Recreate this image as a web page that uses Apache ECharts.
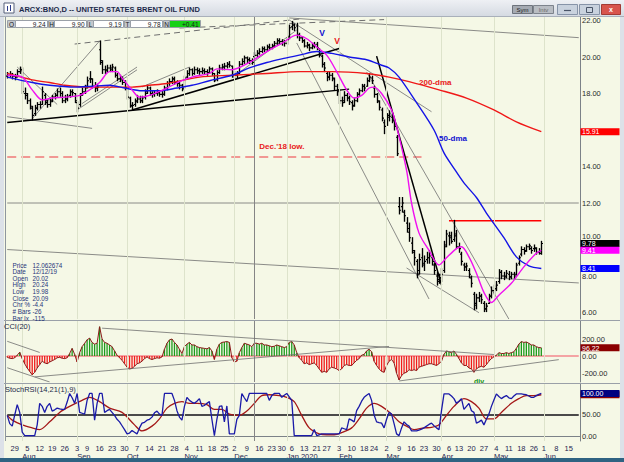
<!DOCTYPE html>
<html>
<head>
<meta charset="utf-8">
<title>ARCX:BNO,D</title>
<script src="https://cdn.jsdelivr.net/npm/echarts@6.0.0/dist/echarts.min.js"></script>
<style>
html,body{margin:0;padding:0;background:#f5f8e6;overflow:hidden}
#chart{width:624px;height:462px}
</style>
</head>
<body>
<div id="chart"></div>
<script>
// ================= DATA =================
const startDate = [2019, 6, 24];
const endDate = [2020, 5, 19];
const holidays = ['2019-09-02','2019-11-28','2019-12-25','2020-01-01','2020-01-20','2020-02-17','2020-04-10','2020-05-25'];
const monthNames = ['Jan','Feb','Mar','Apr','May','Jun','Jul','Aug','Sep','Oct','Nov','Dec'];

const open = [18.95,19.0,19.05,18.95,18.95,19.2,19.3,18.0,17.9,17.6, 17.2,16.9,17.2,17.4,17.4,17.9,17.5,17.4,17.6,17.8, 17.9,18.1,18.0,17.6,17.7,17.9,18.1,18.0,17.5,17.4, 18.0,18.1,18.4,18.8,18.8,18.4,18.3,20.4,19.7,19.3, 19.3,19.4,19.3,19.4,19.0,18.8,18.8,18.6,18.3,17.75, 17.3,17.4,17.6,17.7,17.6,17.8,18.1,18.3,18.0,17.95, 18.0,18.05,17.95,17.95,18.3,18.55,18.65,18.8,18.6,18.55, 18.45,18.3,18.9,19.1,19.3,19.1,19.3,19.25,19.2,19.25, 19.2,19.15,19.35,19.1,18.75,19.15,19.4,19.45,19.5,19.6, 19.5,19.0,19.0,19.1,19.6,19.75,19.95,19.85,19.8,20.02, 20.1,20.2,20.3,20.45,20.4,20.55,20.5,20.6,20.75,20.9, 20.85,20.8,20.75,21.1,21.65,21.75,21.7,21.2,21.05,20.9, 20.6,20.65,20.5,20.6,20.7,20.45,20.05,19.6,19.1,18.9, 19.0,18.8,18.4,18.1,17.6,17.6,17.9,17.75,17.5,17.35, 17.6,17.95,18.15,18.4,18.4,18.7,18.85,18.3,17.95,17.55, 17.1,16.4,16.4,16.8,16.7,16.5,15.6,11.8,11.8,11.5, 10.9,10.4,9.8,9.3,8.8,8.3,9.0,8.6,8.9,9.0, 9.0,8.6,8.0,7.8,7.9,8.3,9.7,10.2,10.2,10.0, 10.3,9.6,9.2,8.6,8.5,8.3,7.9,7.0,6.5,6.8, 6.9,6.5,6.2,6.5,6.9,7.2,7.3,7.7,8.2,8.0, 8.0,8.1,7.95,8.1,8.1,8.7,9.2,9.45,9.4,9.6, 9.5,9.5,9.5,9.3,9.24];
const high = [19.15,19.2,19.1,19.05,19.3,19.45,19.4,18.3,18.0,17.7, 17.3,17.35,17.5,17.55,18.35,18.0,17.65,17.7,17.9,18.0, 18.25,18.3,18.1,17.9,17.95,18.2,18.2,18.0,17.55,18.0, 18.3,18.45,18.9,19.2,18.8,18.6,18.5,20.88,19.8,19.5, 19.55,19.55,19.6,19.45,19.1,19.0,18.9,18.7,18.35,17.8, 17.5,17.7,17.9,17.85,17.85,18.2,18.45,18.35,18.1,18.15, 18.2,18.15,18.1,18.4,18.65,18.8,18.9,18.9,18.7,18.65, 18.5,18.95,19.25,19.4,19.35,19.45,19.4,19.35,19.4,19.35, 19.3,19.45,19.4,19.1,19.25,19.55,19.6,19.65,19.7,19.75, 19.5,19.2,19.2,19.75,19.9,20.05,20.0,19.95,19.9,20.24, 20.35,20.45,20.55,20.55,20.65,20.7,20.7,20.85,21.0,21.0, 20.95,20.9,21.05,21.75,21.95,21.8,21.85,21.3,21.1,20.95, 20.8,20.7,20.75,20.8,20.8,20.45,20.1,19.7,19.15,19.2, 19.1,18.85,18.5,18.2,17.8,18.1,18.0,17.85,17.6,17.75, 18.05,18.25,18.5,18.5,18.85,19.1,18.95,18.4,18.0,17.6, 17.2,16.55,16.9,17.05,16.9,16.6,15.7,12.3,12.3,11.6, 11.2,10.9,10.1,9.4,8.9,9.2,9.5,9.1,9.3,9.4, 9.2,8.7,8.2,8.1,8.4,9.9,10.5,10.4,10.4,11.05, 10.5,9.8,9.3,8.7,8.7,8.4,8.0,7.1,7.0,7.1, 7.0,6.6,6.5,7.0,7.4,7.5,7.7,8.35,8.3,8.2, 8.3,8.25,8.2,8.2,8.7,9.1,9.6,9.55,9.7,9.75, 9.6,9.7,9.55,9.5,9.90];
const low = [18.85,18.9,18.8,18.75,18.9,19.1,18.0,17.7,17.45,17.15, 16.55,16.8,17.1,17.2,17.4,17.4,17.25,17.3,17.55,17.7, 17.85,17.85,17.5,17.5,17.6,17.8,17.9,17.5,17.0,17.3, 17.9,18.0,18.3,18.6,18.3,18.1,18.15,19.6,19.1,19.1, 19.15,19.2,19.2,18.9,18.7,18.65,18.5,18.2,17.7,17.25, 17.1,17.3,17.5,17.5,17.5,17.7,18.0,17.9,17.8,17.85, 17.9,17.85,17.8,17.9,18.2,18.45,18.55,18.5,18.4,18.25, 18.15,18.3,18.85,19.0,19.0,19.05,19.1,19.05,19.1,19.05, 19.0,19.1,19.0,18.65,18.7,19.1,19.3,19.3,19.4,19.45, 18.9,18.85,18.85,19.1,19.55,19.65,19.7,19.65,19.6,19.98, 20.0,20.15,20.25,20.3,20.35,20.4,20.45,20.55,20.7,20.7, 20.65,20.6,20.7,21.0,21.5,21.45,21.05,20.9,20.8,20.55, 20.5,20.35,20.45,20.5,20.4,20.0,19.45,19.2,18.7,18.75, 18.7,18.2,17.9,17.45,17.3,17.5,17.6,17.4,17.1,17.3, 17.55,17.9,18.1,18.15,18.4,18.65,18.55,17.8,17.5,17.1, 16.5,15.8,16.25,16.5,16.4,16.0,14.6,11.4,11.5,11.0, 10.4,9.9,9.25,8.6,7.9,8.1,8.5,8.3,8.7,8.7, 8.6,8.1,7.5,7.6,7.7,8.2,9.6,9.7,9.8,9.9, 9.5,9.3,8.6,8.3,8.3,7.9,7.4,6.15,6.2,6.6, 6.5,6.05,6.05,6.5,6.8,7.0,7.2,7.6,7.85,7.8, 7.9,7.8,7.85,7.85,8.05,8.6,9.1,9.2,9.35,9.45, 9.25,9.35,9.2,9.2,9.19];
const close = [19.0,19.05,18.95,18.9,19.2,19.3,18.1,18.0,17.6,17.3, 16.8,17.2,17.4,17.4,18.1,17.6,17.4,17.55,17.8,17.9, 18.1,18.0,17.6,17.7,17.85,18.1,18.05,17.6,17.2,17.9, 18.1,18.3,18.7,18.8,18.4,18.3,18.35,19.8,19.3,19.25, 19.4,19.4,19.45,19.0,18.8,18.9,18.6,18.3,17.8,17.35, 17.35,17.55,17.7,17.6,17.75,18.0,18.3,18.0,17.95,18.0, 18.05,17.95,17.95,18.3,18.55,18.65,18.8,18.6,18.55,18.45, 18.25,18.85,19.1,19.3,19.1,19.3,19.25,19.2,19.25,19.2, 19.15,19.35,19.1,18.7,19.15,19.4,19.45,19.5,19.6,19.55, 19.0,19.0,19.1,19.6,19.75,19.95,19.85,19.8,19.7,20.09, 20.2,20.3,20.45,20.4,20.55,20.5,20.6,20.75,20.9,20.85, 20.8,20.75,20.95,21.6,21.75,21.6,21.2,21.05,20.9,20.6, 20.65,20.5,20.6,20.65,20.5,20.1,19.6,19.4,18.9,19.0, 18.85,18.4,18.2,17.6,17.5,17.9,17.75,17.55,17.3,17.6, 17.95,18.15,18.4,18.3,18.7,18.9,18.7,17.95,17.6,17.25, 16.65,16.2,16.7,16.75,16.55,16.2,14.7,11.6,12.0,11.3, 10.6,10.1,9.4,9.0,8.1,8.9,8.7,8.8,9.0,9.1, 8.8,8.3,7.7,7.9,8.1,9.6,10.3,10.1,9.9,10.2, 9.6,9.5,8.8,8.5,8.55,8.1,7.6,6.4,6.8,6.9, 6.7,6.2,6.35,6.9,7.2,7.3,7.5,8.2,8.0,7.95, 8.15,7.95,8.1,8.0,8.6,9.0,9.45,9.35,9.6,9.65, 9.4,9.55,9.3,9.37,9.78];

// moving averages as [bar index, value]
const maShort = [[0,19.0],[6,18.9],[10,18.2],[14,17.65],[18,17.75],[23,17.8],[29,17.9],[33,18.2],[37,18.6],[41,19.2],[44,19.2],[46,18.85],[50,18.2],[53,17.8],[57,17.9],[64,18.3],[69,18.65],[74,18.9],[81,19.1],[84,19.35],[90,19.3],[97,19.7],[104,20.3],[110,20.75],[116,21.2],[120,21.0],[124,20.55],[128,20.1],[132,19.2],[136,18.2],[139,17.75],[142,17.9],[145,18.3],[147,18.35],[150,18.0],[154,17.1],[156,16.2],[160,13.8],[162,12.0],[165,10.35],[169,9.4],[173,8.6],[176,9.0],[180,9.5],[182,9.6],[185,9.05],[188,8.15],[191,7.1],[194,6.55],[197,6.95],[202,7.6],[207,8.5],[212,9.25],[214,9.41]];
const ma50 = [[0,18.9],[10,18.6],[17,18.45],[27,18.35],[34,18.4],[41,18.45],[47,18.3],[54,18.15],[61,18.15],[68,18.3],[74,18.45],[81,18.7],[90,19.0],[97,19.4],[104,19.7],[110,19.9],[117,20.1],[124,20.3],[130,20.2],[137,20.0],[144,19.85],[150,19.55],[153,19.4],[157,18.9],[164,17.5],[171,16.0],[175,14.75],[179,13.9],[183,13.1],[188,12.3],[192,11.45],[199,10.1],[204,9.05],[209,8.55],[214,8.41]];
const ma200 = [[0,19.1],[10,18.75],[17,18.6],[23,18.45],[32,18.35],[50,18.35],[57,18.45],[64,18.55],[77,18.9],[90,19.0],[104,19.1],[117,19.2],[130,19.2],[144,19.1],[153,18.9],[161,18.65],[173,18.2],[184,17.75],[195,17.1],[204,16.45],[214,15.91]];

const cci = [-15,-25,-30,-20,10,45,-30,-90,-140,-180, -220,-190,-140,-100,-60,-80,-90,-70,-55,-40, -20,-15,-25,-30,-20,30,90,20,-70,40, 110,150,190,210,160,140,150,344,200,160, 150,130,110,60,10,-20,-50,-90,-130,-150, -145,-120,-90,-80,-60,-30,-10,-30,-40,-30, -20,-25,-10,80,150,190,200,160,130,80, 30,110,140,160,130,130,110,100,95,90, 85,100,60,-40,80,140,160,165,170,160, -20,-70,-60,40,100,150,140,130,110,150, 150,140,150,130,130,120,110,115,130,120, 110,100,110,160,170,130,40,-20,-50,-90, -80,-100,-90,-80,-110,-150,-190,-180,-190,-150, -130,-140,-150,-170,-150,-110,-100,-110,-110,-80, -50,-30,10,20,60,80,50,-60,-110,-150, -180,-190,-110,-60,-40,-80,-200,-280,-230,-200, -190,-160,-170,-160,-170,-130,-120,-110,-100,-90, -90,-100,-110,-90,-60,20,60,50,40,60, 20,-30,-80,-110,-110,-140,-150,-190,-150,-130, -120,-130,-100,-60,-30,-10,10,40,30,30, 40,30,40,50,90,140,170,160,165,150, 130,130,110,100,96.22];

const stochK = [49,30,24,50,74,56,10,2,2,2, 2,2,27,77,70,56,70,77,59,62, 66,64,63,63,80,100,90,77,100,56, 54,52,84,100,100,38,77,100,100,56, 60,63,56,49,40,34,25,16,6,8, 14,10,6,20,31,33,38,40,45,55, 59,52,49,100,100,100,100,84,60,45, 38,70,91,84,80,77,82,88,70,72, 77,81,40,2,40,70,71,34,71,6, 6,6,40,49,100,90,81,100,100,100, 100,100,100,100,100,84,95,100,100,100, 91,96,100,92,84,2,2,2,2,2, 2,2,2,16,2,4,6,6,6,6, 6,6,6,6,20,18,16,41,38,34, 60,70,82,91,96,100,84,50,34,32, 31,20,40,56,52,30,6,2,20,34, 28,24,13,13,13,15,17,20,24,28, 31,25,20,16,60,99,99,99,94,88, 77,82,88,63,70,77,60,56,31,34, 38,27,40,52,70,85,99,93,88,92, 95,90,88,94,99,99,99,98,97,94, 91,91,95,98,100];
const stochD = [[0,49],[2,38],[6,27],[10,20],[13,16],[17,34],[21,56],[25,70],[30,84],[33,91],[37,81],[41,66],[46,56],[51,27],[54,13],[58,24],[61,41],[64,66],[67,77],[70,81],[73,77],[76,77],[80,74],[83,63],[86,63],[89,52],[93,49],[96,59],[99,77],[102,95],[105,97],[109,95],[112,91],[115,81],[118,49],[121,20],[125,6],[128,4],[131,4],[134,9],[138,20],[141,41],[144,66],[147,77],[150,70],[154,52],[157,34],[160,24],[163,16],[167,20],[170,21],[173,27],[176,49],[179,70],[183,88],[186,81],[189,66],[192,41],[195,41],[198,56],[202,77],[205,88],[208,95],[211,95],[214,97]];

// tick label values (10.00 sits slightly above its tick, as in the source chart)
const priceTicks = [6,8,10.15,12,14,18,20,22];
const cciTicks = [-200,0,200];
const stochTicks = [0,50];

// trendlines drawn on the chart, [bar index, value] endpoints
const thinPriceLines = [
  [[4,19.45],[20,17.4]], [[10,16.62],[37,20.88]], [[0,16.73],[34,16.09]],
  [[28,17.1],[52,19.3]], [[30,17.45],[52,19.45]], [[54,18.36],[73,19.45]],
  [[90,18.85],[116,21.48]], [[113,22.14],[229,21.06]], [[116,20.77],[169,6.74]],
  [[113,22.03],[170,17.0]], [[144,19.18],[201,5.64]], [[160,8.44],[189,5.99]],
  [[0,9.45],[229,7.62]], [[0,12.0],[229,12.0]]
];
const boldPriceLines = [ [[0,16.41],[137,18.24]], [[50,17.1],[133,20.47]], [[148,20.05],[174,7.51]] ];
const dashedPriceLines = [ [[27,20.71],[117,22.08]], [[69,21.59],[151,22.05]] ];
const decLowLine = [[0,14.52],[166,14.52]];
const resistanceLine = [[177,11.03],[214,11.03]];
const cciLines = [ [[0,173],[13,42]], [[0,-137],[17,-304]], [[11,-244],[153,113]], [[38,327],[195,18]], [[157,-292],[221,-42]] ];
const cursorIndex = 99;

const header = [['O','9.24'],['H','9.90'],['L','9.19'],['T','9.78'],['N','+0.41']];
const infoBox = [['Price','12.062674'],['Date','12/12/19'],['Open','20.02'],['High','20.24'],['Low','19.98'],['Close','20.09'],['Chr %','-4.4'],['# Bars','-26'],['Bar Ix','-115']];
const priceBadges = [[15.91,'15.91','#ff0000'],[9.78,'9.78','#000000'],[9.41,'9.41','#ff00ff'],[8.41,'8.41','#0000ff']];
const cciBadge = [96.22,'96.22','#8b0000'];
const stochBadges = [[97,'','#8b0000'],[100,'100.00','#000080']];
const notes = [
  {text:"Dec.'18 low.", at:[101.3,15.07], color:'#e82020', grid:0},
  {text:'200-dma', at:[164.6,18.63], color:'#e82020', grid:0},
  {text:'50-dma', at:[172.6,15.51], color:'#1010d0', grid:0},
  {text:'V', at:[125.4,21.32], color:'#1010d0', grid:0},
  {text:'V', at:[130.8,20.88], color:'#e82020', grid:0},
  {text:'div', at:[186.5,-300], color:'#109010', grid:1}
];

// ================= BUILD =================
const cats = [];
(function(){
  let t = Date.UTC(startDate[0],startDate[1],startDate[2]);
  const end = Date.UTC(endDate[0],endDate[1],endDate[2]);
  while (t <= end) {
    const d = new Date(t); const wd = d.getUTCDay(); const s = d.toISOString().slice(0,10);
    if (wd !== 0 && wd !== 6 && holidays.indexOf(s) < 0) cats.push(s);
    t += 86400000;
  }
})();
const dow = s => new Date(s + 'T00:00:00Z').getUTCDay();
const isWeekStart = i => i > 0 && dow(cats[i]) <= dow(cats[i-1]);
const isMonthStart = i => i > 0 && cats[i].slice(5,7) !== cats[i-1].slice(5,7);
const monthStarts = cats.map((c,i)=>isMonthStart(i)?i:-1).filter(i=>i>=0);

const FONT = '"Liberation Sans", Arial, sans-serif';
const GRID_L = 6, GRID_W = 574;

const chart = echarts.init(document.getElementById('chart'), null, {renderer:'svg', width:624, height:462});

function seg(pts, xi, yi, color, width, type, z) {
  return {type:'line', xAxisIndex:xi, yAxisIndex:yi, data:pts, symbol:'none', silent:true, animation:false,
    lineStyle:{color:color, width:width, type:type||'solid'}, z:z||2, clip:true};
}
function catAxis(gi) {
  return {type:'category', gridIndex:gi, data:cats, boundaryGap:true,
    axisLine:{show:false}, axisTick:{show:false}, axisLabel:{show:false}, splitLine:{show:false}};
}
function valAxis(gi, min, max, ticks, fmt) {
  return {type:'value', gridIndex:gi, position:'right', min:min, max:max, scale:true,
    axisLine:{show:true, lineStyle:{color:'#7c8288', width:1}}, axisTick:{show:false}, splitLine:{show:false},
    axisLabel:{show:true, customValues:ticks, formatter:fmt, color:'#2a2a2a', fontSize:7.5, lineHeight:7.5, fontFamily:FONT, margin:2}};
}

const ohlc = open.map((o,i)=>[i, o, high[i], low[i], close[i]]);
function renderOHLC(params, api) {
  const i = api.value(0);
  const po = api.coord([i, api.value(1)]);
  const ph = api.coord([i, api.value(2)]);
  const pl = api.coord([i, api.value(3)]);
  const pc = api.coord([i, api.value(4)]);
  const x = Math.round(po[0]) + 0.5;
  const t = 1.5;
  return {type:'group', children:[
    {type:'line', shape:{x1:x, y1:ph[1]-0.5, x2:x, y2:pl[1]+0.5}, style:{stroke:'#000', lineWidth:1.35}},
    {type:'line', shape:{x1:x-t, y1:po[1], x2:x, y2:po[1]}, style:{stroke:'#000', lineWidth:1.1}},
    {type:'line', shape:{x1:x, y1:pc[1], x2:x+t, y2:pc[1]}, style:{stroke:'#000', lineWidth:1.1}}
  ]};
}

const series = [];
const monthLineData = monthStarts.map(i=>({xAxis:cats[i]}));
const vlineStyle = {silent:true, symbol:['none','none'], label:{show:false}, animation:false};
series.push(Object.assign(seg(resistanceLine,0,0,'#ff0000',1.5), {z:3, markLine:Object.assign({}, vlineStyle, {
  lineStyle:{color:'#dde3cb', width:1, type:'solid'}, data:monthLineData})}));
series.push(Object.assign(seg(decLowLine,0,0,'#f07878',1.4,[9,5]), {markLine:Object.assign({}, vlineStyle, {
  lineStyle:{color:'#858585', width:1, type:'solid'}, data:[{xAxis:cats[cursorIndex]}]})}));
thinPriceLines.forEach(p=>series.push(seg(p,0,0,'#6e6e6e',0.8)));
dashedPriceLines.forEach(p=>series.push(seg(p,0,0,'#6e6e6e',1,[6,4])));
boldPriceLines.forEach(p=>series.push(seg(p,0,0,'#000000',1.5)));
series.push({type:'custom', xAxisIndex:0, yAxisIndex:0, data:ohlc, renderItem:renderOHLC, silent:true, animation:false, z:4,
  encode:{x:0, y:[1,2,3,4]}});
series.push({type:'line', xAxisIndex:0, yAxisIndex:0, data:ma200, symbol:'none', smooth:0.3, silent:true, z:5, lineStyle:{color:'#f01818', width:1.4}});
series.push({type:'line', xAxisIndex:0, yAxisIndex:0, data:ma50, symbol:'none', smooth:0.3, silent:true, z:5, lineStyle:{color:'#1414e6', width:1.4}});
series.push({type:'line', xAxisIndex:0, yAxisIndex:0, data:maShort, symbol:'none', smooth:0.3, silent:true, z:5, lineStyle:{color:'#f010f0', width:1.4}});

// CCI panel
series.push(Object.assign(seg([[0,0],[229,0]],1,1,'#f4a4a4',2), {markLine:Object.assign({}, vlineStyle, {
  lineStyle:{color:'#858585', width:1, type:'solid'}, data:[{xAxis:cats[cursorIndex]}].concat(monthLineData.map(d=>Object.assign({}, d, {lineStyle:{color:'#dde3cb'}})))})}));
series.push({type:'bar', xAxisIndex:1, yAxisIndex:1, barWidth:1.3, silent:true, animation:false, z:3,
  data:cci.map(v=>({value:v, itemStyle:{color: v>=0 ? '#1c9a1c' : '#f01c1c'}}))});
series.push({type:'line', xAxisIndex:1, yAxisIndex:1, data:cci, symbol:'none', silent:true, z:4, lineStyle:{color:'#8c1a1a', width:1}});
cciLines.forEach(p=>series.push(seg(p,1,1,'#6e6e6e',0.8,'solid',5)));

// StochRSI panel
series.push(Object.assign(seg([[0,50],[229,50]],2,2,'#4a4a4a',2), {markLine:Object.assign({}, vlineStyle, {
  lineStyle:{color:'#858585', width:1, type:'solid'}, data:[{xAxis:cats[cursorIndex]}].concat(monthLineData.map(d=>Object.assign({}, d, {lineStyle:{color:'#dde3cb'}})))})}));
series.push({type:'line', xAxisIndex:2, yAxisIndex:2, data:stochD, symbol:'none', smooth:0.3, silent:true, z:4, lineStyle:{color:'#a41818', width:1.3}});
series.push({type:'line', xAxisIndex:2, yAxisIndex:2, data:stochK, symbol:'none', silent:true, z:5, lineStyle:{color:'#1a1aa8', width:1.3}});

const option = {
  animation:false,
  backgroundColor:'#f5f8e6',
  grid:[
    {left:GRID_L, top:16, width:GRID_W, height:303},
    {left:GRID_L, top:321, width:GRID_W, height:61},
    {left:GRID_L, top:384, width:GRID_W, height:57}
  ],
  xAxis:[
    catAxis(0), catAxis(1),
    {type:'category', gridIndex:2, data:cats, boundaryGap:true, axisLine:{show:true, lineStyle:{color:'#7c8288'}}, axisTick:{show:false}, splitLine:{show:false},
      axisLabel:{show:true, interval:(i)=>isWeekStart(i), formatter:v=>String(+v.slice(8)), color:'#1d2450', fontSize:7.5, fontFamily:FONT, margin:3}},
    {type:'category', gridIndex:2, data:cats, boundaryGap:true, position:'bottom', offset:8, axisLine:{show:false}, axisTick:{show:false}, splitLine:{show:false},
      axisLabel:{show:true, interval:(i)=>isMonthStart(i), formatter:v=>{const m=+v.slice(5,7); return m===1 ? 'Jan '+v.slice(0,4) : monthNames[m-1];}, align:'left', color:'#1d2450', fontSize:7.5, fontFamily:FONT, margin:3}}
  ],
  yAxis:[
    valAxis(0, 5.644, 22.247, priceTicks, v=>(Math.round(v/2)*2).toFixed(2)),
    valAxis(1, -304, 411, cciTicks, v=>v.toFixed(2)),
    valAxis(2, -10.5, 122, stochTicks, v=>v.toFixed(2))
  ],
  series:series
};
chart.setOption(option);

// ================= GRAPHICS =================
const G = [];
const Z = 100;
function rect(x,y,w,h,fill,stroke,z){ G.push({type:'rect', shape:{x:x,y:y,width:w,height:h}, style:{fill:fill, stroke:stroke||null, lineWidth:stroke?1:0}, z:z||Z, silent:true}); }
function text(x,y,str,size,color,opts){ opts=opts||{}; G.push({type:'text', x:x, y:y, silent:true, z:opts.z||Z+1,
  style:{text:str, fontSize:size, lineHeight:opts.lh||undefined, fontFamily:opts.family||FONT, fontWeight:opts.weight||'normal', fill:color, align:opts.align||'left', verticalAlign:'middle'}}); }
function hline(x1,x2,y,color,w){ G.push({type:'line', shape:{x1:x1,y1:y,x2:x2,y2:y}, style:{stroke:color, lineWidth:w||1}, z:Z, silent:true}); }
function vline(x,y1,y2,color,w){ G.push({type:'line', shape:{x1:x,y1:y1,x2:x,y2:y2}, style:{stroke:color, lineWidth:w||1}, z:Z, silent:true}); }

// window frame
rect(0,0,624,17,{type:'linear',x:0,y:0,x2:0,y2:1,colorStops:[{offset:0,color:'#eef0f4'},{offset:1,color:'#d4d9e1'}]});
hline(0,624,16.5,'#a9b0ba');
rect(0,17,4,441,'#dce1e8');
vline(5.5,17,441,'#8e969e');
rect(620,17,4,441,'#dce1e8');
rect(0,458,624,4,'#2f6382');
// title
rect(4,3,10,10,'#ffffff','#56607a');
vline(7.5,6,11,'#2a3a8a'); vline(10.5,5,11,'#2a3a8a');
text(19,9.5,'ARCX:BNO,D -- UNITED STATES BRENT OIL FUND',7.5,'#1c2a4a',{weight:'bold'});
// buttons
rect(512.5,5.5,20,8,'#a5aab2','#6d737c'); text(522.5,9.6,'Sym',6,'#1a1a1a',{align:'center'});
rect(533.5,5.5,20,8,'#b9bdc3','#7d838c'); text(543.5,9.6,'Intv',6,'#6a6a6a',{align:'center'});
rect(557.5,4.5,20,10,'#c9d2de','#8794a8'); hline(564,571,10.5,'#4a5568',1.2);
rect(579.5,4.5,20,10,'#c9d2de','#8794a8'); rect(586.5,7.5,6,5,null,'#4a5568');
rect(601.5,4.5,19,10,'#d8544c','#a23a34'); text(611,9.5,'x',7,'#ffffff',{align:'center',weight:'bold'});
// header values row
const hdrCells = [[7,15,48],[48,54,87],[87,93,124],[124,130,163],[163,169,201]];
header.forEach((h,k)=>{
  const c = hdrCells[k];
  rect(c[0]+0.5,20.5,c[1]-c[0],7,'#c3c7cd','#9aa0a8');
  text((c[0]+c[1])/2+0.5,24.2,h[0],6.5,'#1a1a1a',{align:'center'});
  rect(c[1]+0.5,20.5,c[2]-c[1]-1,7, k===4 ? '#18d018' : '#ffffff', '#9aa0a8');
  text(c[2]-2.5,24.2,h[1],6.5,'#1a1a1a',{align:'right'});
});
// info box
infoBox.forEach((r,k)=>{ text(12.5,265+k*6.65,r[0],6.3,'#26357a',{lh:6.3}); text(32.5,265+k*6.65,r[1],6.3,'#26357a',{lh:6.3}); });
// panel separators and labels
hline(4,620,320.5,'#9aa0a8'); hline(4,620,383.5,'#9aa0a8');
text(4,326.5,'CCI(20)',7.5,'#1c2a4a');
text(5,389.5,'StochRSI(14,21(1),9)',7.5,'#1c2a4a');

// value badges located through the axes
function badge(yAxisIndex, val, str, bg) {
  const y = chart.convertToPixel({yAxisIndex:yAxisIndex}, val);
  rect(580.5, y-3.5, 39, 7, bg, null, Z+2);
  if (str) text(582, y+0.3, str, 7, '#ffffff', {z:Z+3, lh:6.5});
}
priceBadges.forEach(b=>badge(0,b[0],b[1],b[2]));
badge(1,cciBadge[0],cciBadge[1],cciBadge[2]);
stochBadges.forEach(b=>badge(2,b[0],b[1],b[2]));

// annotations
notes.forEach(n=>{
  const p = chart.convertToPixel({gridIndex:n.grid}, n.at);
  text(p[0], p[1], n.text, n.text==='div'?7:(n.text==='V'?8.5:8), n.color, {weight:'bold', z:Z-50});
});

chart.setOption({graphic:{elements:G}});
</script>
</body>
</html>
